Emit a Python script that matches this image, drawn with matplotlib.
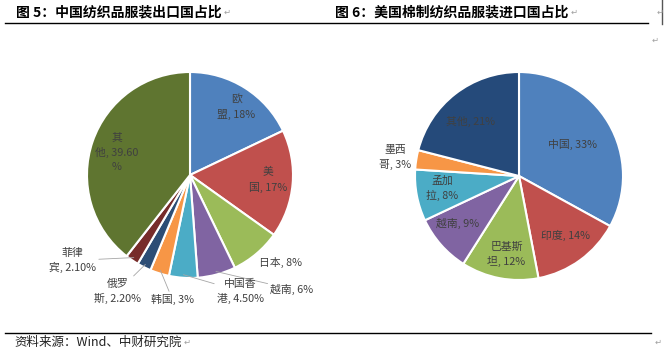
import numpy as np
import matplotlib.pyplot as plt
from matplotlib.lines import Line2D
from matplotlib.text import Annotation

plt.rcParams['font.family'] = ['Noto Sans CJK SC', 'DejaVu Sans']

W, H = 664, 355

# 图5: 中国纺织品服装出口国占比
exp_labels = ['欧\n盟, 18%', '美\n国, 17%', '日本, 8%', '越南, 6%', '中国香\n港, 4.50%',
              '韩国, 3%', '俄罗\n斯, 2.20%', '菲律\n宾, 2.10%', '其\n他, 39.60\n%']
exp_share = [18, 17, 8, 6, 4.5, 3, 2.2, 2.1, 39.6]

# 图6: 美国棉制纺织品服装进口国占比
imp_labels = ['中国, 33%', '印度, 14%', '巴基斯\n坦, 12%', '越南, 9%', '孟加\n拉, 8%',
              '墨西\n哥, 3%', '其他, 21%']
imp_share = [33, 14, 12, 9, 8, 3, 21]

exp_colors = ['#4f81bd', '#c0504d', '#9bbb59', '#8064a2', '#4bacc6', '#f79646',
              '#2c4d75', '#772c2a', '#5f7530']
imp_colors = ['#4f81bd', '#c0504d', '#9bbb59', '#8064a2', '#4bacc6', '#f79646', '#254a7a']

# label centres, in pie radii from the pie centre
exp_pos = [(0.45, 0.66), (0.76, -0.05), (0.88, -0.85), (0.99, -1.11), (0.49, -1.13),
           (-0.17, -1.21), (-0.70, -1.13), (-1.14, -0.83), (-0.71, 0.22)]
exp_leader = [False, False, False, True, True, True, True, True, False]
imp_pos = [(0.51, 0.30), (0.45, -0.57), (-0.12, -0.75), (-0.59, -0.46), (-0.74, -0.12),
           (-1.19, 0.18), (-0.47, 0.52)]
imp_leader = [False] * 7

fig = plt.figure(figsize=(W / 100, H / 100), dpi=100)


def draw_pie(cx, cy, r, share, colors, labels, pos, leader):
    half = 150
    ax = fig.add_axes([(cx - half) / W, (H - cy - half) / H, 2 * half / W, 2 * half / H])
    wedges, _ = ax.pie(share, colors=colors, startangle=90, counterclock=False,
                       wedgeprops=dict(edgecolor='white', linewidth=1.5))
    lim = half / r
    ax.set_xlim(-lim, lim)
    ax.set_ylim(-lim, lim)
    ax.set_aspect('equal')
    ax.axis('off')
    for w, lab, (x, y), lead in zip(wedges, labels, pos, leader):
        if lead:
            a = np.deg2rad((w.theta1 + w.theta2) / 2)
            ax.annotate(lab, xy=(0.97 * np.cos(a), 0.97 * np.sin(a)), xytext=(x, y),
                        ha='center', va='center', fontsize=7.8, color='#404040',
                        linespacing=1.45,
                        arrowprops=dict(arrowstyle='-', color='#a6a6a6', lw=0.6,
                                        shrinkA=0, shrinkB=0))
        else:
            ax.text(x, y, lab, ha='center', va='center', fontsize=7.8, color='#404040',
                    linespacing=1.5)


draw_pie(190, 175, 103, exp_share, exp_colors, exp_labels, exp_pos, exp_leader)
draw_pie(519, 176, 104, imp_share, imp_colors, imp_labels, imp_pos, imp_leader)


def fx(px):
    return px / W


def fy(py):
    return 1 - py / H


def mark(t):
    # word-processor return mark after a paragraph
    fig.add_artist(Annotation('↵', xy=(1, 0.5), xycoords=t, xytext=(1.5, 0),
                              textcoords='offset points', va='center', fontsize=6,
                              color='#a0a0a0', family='DejaVu Sans'))


t5 = fig.text(fx(16), fy(12), '图 5：中国纺织品服装出口国占比', fontsize=10, fontweight='bold',
              va='center', ha='left')
t6 = fig.text(fx(335), fy(12), '图 6：美国棉制纺织品服装进口国占比', fontsize=10, fontweight='bold',
              va='center', ha='left')
src = fig.text(fx(14), fy(342), '资料来源：Wind、中财研究院', fontsize=9, va='center', ha='left',
               color='#222222')
for t in (t5, t6, src):
    mark(t)
for x, y in [(657, 12), (652, 40), (655, 342)]:
    fig.text(fx(x), fy(y), '↵', fontsize=6, color='#a0a0a0', va='center',
             family='DejaVu Sans')

fig.add_artist(Line2D([fx(5), fx(648)], [fy(23), fy(23)], transform=fig.transFigure,
                      color='black', lw=1))
fig.add_artist(Line2D([fx(662), fx(662)], [fy(0), fy(24)], transform=fig.transFigure,
                      color='#555555', lw=1))
fig.add_artist(Line2D([fx(5), fx(651)], [fy(333), fy(333)], transform=fig.transFigure,
                      color='black', lw=1))

fig.savefig('out.png', dpi=100)
